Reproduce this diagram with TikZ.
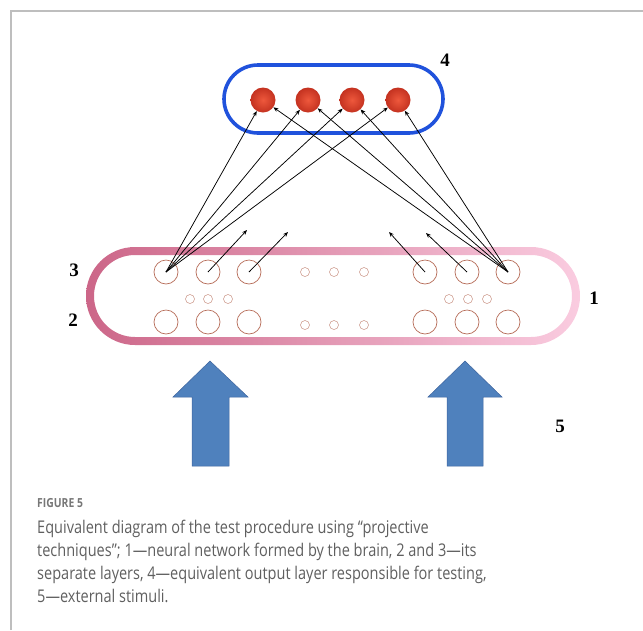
\documentclass[tikz,border=0pt]{standalone}
\usepackage{fontspec}
\setmainfont{Liberation Serif}
\newfontfamily\capfont[FakeStretch=0.83]{Open Sans}
\usetikzlibrary{arrows.meta}
\definecolor{pinkL}{RGB}{204,102,136}
\definecolor{pinkM}{RGB}{242,158,192}
\definecolor{pinkR}{RGB}{250,204,224}
\definecolor{ringc}{RGB}{182,108,88}
\definecolor{bluebox}{RGB}{32,82,220}
\definecolor{stim}{RGB}{79,129,189}
\definecolor{stimedge}{RGB}{62,100,158}
\definecolor{capgray}{RGB}{95,95,95}
\definecolor{framegray}{RGB}{190,190,190}
\definecolor{ballin}{RGB}{238,88,60}
\definecolor{ballout}{RGB}{196,50,32}
\begin{document}
\begin{tikzpicture}[x=1pt,y=-1pt,
  bigring/.style={circle,draw=ringc,line width=0.7pt,minimum size=24pt,inner sep=0pt},
  smallring/.style={circle,draw=ringc!75,line width=0.5pt,minimum size=9pt,inner sep=0pt},
  ball/.style={circle,minimum size=25pt,inner sep=0pt,inner color=ballin,outer color=ballout},
  conn/.style={-{Stealth[length=5pt,width=4pt]},line width=0.75pt},
  lab/.style={font=\bfseries\fontsize{19}{19}\selectfont,inner sep=0pt},
  capline/.style={anchor=base west,inner sep=0pt,text=capgray,font=\capfont\fontsize{17.5}{20}\selectfont}]
\useasboundingbox (0,0) rectangle (643,630);
% frame
\draw[framegray,line width=1.5pt] (11,630) -- (11,11) -- (643,11);
% pink stadium (gradient stroke)
\shade[even odd rule,left color=pinkL,middle color=pinkM,right color=pinkR,rounded corners=49pt]
  (86,247) rectangle (580,345) [rounded corners=41pt] (94,255) rectangle (572,337);
% blue stadium
\draw[bluebox,line width=3.6pt,rounded corners=34pt] (224,65) rectangle (443,133);
% balls
\node[ball] (b1) at (263,100) {};
\node[ball] (b2) at (308,100) {};
\node[ball] (b3) at (352,100) {};
\node[ball] (b4) at (398,100) {};
% top row
\node[bigring] (t1) at (166,272) {};
\node[bigring] (t2) at (208,272) {};
\node[bigring] (t3) at (249,272) {};
\node[bigring] (t4) at (425,272) {};
\node[bigring] (t5) at (467,272) {};
\node[bigring] (t6) at (508,272) {};
\node[smallring] (s1) at (305,272) {};
\node[smallring] (s2) at (334,272) {};
\node[smallring] (s3) at (364,272) {};
% middle small
\node[smallring] (m1) at (190,299) {};
\node[smallring] (m2) at (208,299) {};
\node[smallring] (m3) at (228,299) {};
\node[smallring] (m4) at (449,299) {};
\node[smallring] (m5) at (468,299) {};
\node[smallring] (m6) at (487,299) {};
% bottom row
\node[bigring] (u1) at (166,322) {};
\node[bigring] (u2) at (208,322) {};
\node[bigring] (u3) at (249,322) {};
\node[bigring] (u4) at (425,322) {};
\node[bigring] (u5) at (467,322) {};
\node[bigring] (u6) at (508,322) {};
\node[smallring] (v1) at (305,325) {};
\node[smallring] (v2) at (334,325) {};
\node[smallring] (v3) at (364,325) {};
% free ends
\coordinate (e2) at (247,230);
\coordinate (e3) at (288,232);
\coordinate (e4) at (389,232);
\coordinate (e5) at (426,233);
% connectors
\foreach \b in {b1,b2,b3,b4} {
  \draw[conn] (t1.center) -- (\b);
  \draw[conn] (t6.center) -- (\b);
}
\draw[conn] (t2.center) -- (e2);
\draw[conn] (t3.center) -- (e3);
\draw[conn] (t4.center) -- (e4);
\draw[conn] (t5.center) -- (e5);
% labels
\node[lab] (n3) at (74,270) {3};
\node[lab] (n2) at (73,320) {2};
\node[lab] (n1) at (594,298) {1};
\node[lab] (n4) at (445,60) {4};
\node[lab] (n5) at (560,426) {5};
% stimulus arrows
\filldraw[fill=stim,draw=stimedge,line width=0.5pt]
  (192,466) -- (192,397) -- (173,397) -- (210,361) -- (248,397) -- (229,397) -- (229,466) -- cycle;
\filldraw[fill=stim,draw=stimedge,line width=0.5pt]
  (447,466) -- (447,397) -- (428,397) -- (465,361) -- (502,397) -- (483,397) -- (483,466) -- cycle;
% caption
\node[anchor=base west,inner sep=0pt,text=capgray!85,font=\capfont\bfseries\fontsize{12.5}{13}\selectfont] (fig) at (37,507) {FIGURE 5};
\node[capline] (c1) at (37,533) {Equivalent diagram of the test procedure using “projective};
\node[capline] (c2) at (37,556) {techniques”; 1—neural network formed by the brain, 2 and 3—its};
\node[capline] (c3) at (37,579) {separate layers, 4—equivalent output layer responsible for testing,};
\node[capline] (c4) at (37,602) {5—external stimuli.};
\end{tikzpicture}
\end{document}
